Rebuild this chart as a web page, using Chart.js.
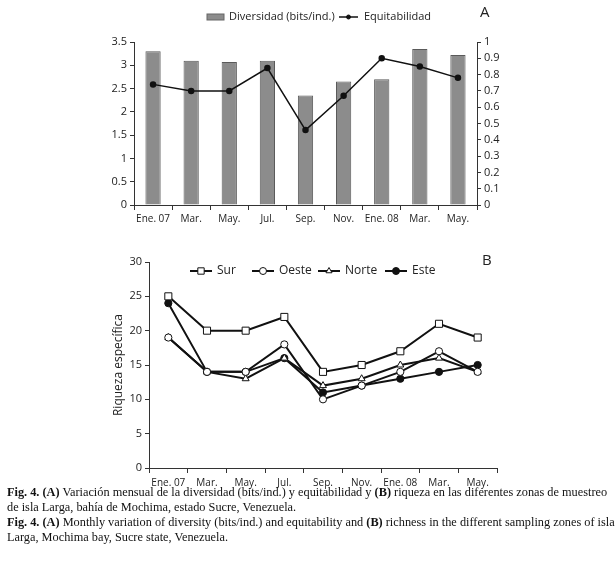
<!DOCTYPE html>
<html>
<head>
<meta charset="utf-8">
<script src="https://cdn.jsdelivr.net/npm/chart.js@4"></script>
<style>
  body { margin: 0; background: #fff; width: 616px; height: 569px; position: relative; overflow: hidden; }
  canvas { position: absolute; left: 0; }
  #capt { position: absolute; left: 7px; top: 485px; width: 606px; font-family: 'Liberation Serif', serif; font-size: 12.3px; line-height: 15px; color: #111; white-space: nowrap; }
</style>
</head>
<body>
<canvas id="chartA" width="616" height="230" style="top:0"></canvas>
<canvas id="chartB" width="616" height="245" style="top:245px"></canvas>
<div id="capt">
<b>Fig. 4. (A)</b> Variación mensual de la diversidad (bits/ind.) y equitabilidad y <b>(B)</b> riqueza en las diferentes zonas de muestreo<br>
de isla Larga, bahía de Mochima, estado Sucre, Venezuela.<br>
<b>Fig. 4. (A)</b> Monthly variation of diversity (bits/ind.) and equitability and <b>(B)</b> richness in the different sampling zones of isla<br>
Larga, Mochima bay, Sucre state, Venezuela.
</div>
<script>
'use strict';

// months sampled
var months = ['Ene. 07', 'Mar.', 'May.', 'Jul.', 'Sep.', 'Nov.', 'Ene. 08', 'Mar.', 'May.'];

// panel A
var diversidad = [3.3, 3.1, 3.07, 3.1, 2.35, 2.65, 2.7, 3.35, 3.22];
var equitabilidad = [0.74, 0.70, 0.70, 0.84, 0.46, 0.67, 0.90, 0.85, 0.78];

// panel B
var sur = [25, 20, 20, 22, 14, 15, 17, 21, 19];
var oeste = [19, 14, 14, 18, 10, 12, 14, 17, 14];
var norte = [19, 14, 13, 16, 12, 13, 15, 16, 14];
var este = [24, 14, 14, 16, 11, 12, 13, 14, 15];

var sans = "'Open Sans', 'Noto Sans', sans-serif";
var axisCol = '#333';

// 3.0 -> "3", 0.50 -> "0.5"
function plainNum(v) {
  return String(Number(v.toFixed(2)));
}

//draws the little legend + the panel letter
function legendPlugin(items, letter) {
  return {
    id: 'legendBox',
    afterDraw: function(chart) {
      var ctx = chart.ctx;
      ctx.save();
      ctx.font = items.font;
      ctx.textBaseline = 'middle';
      items.list.forEach(function(it) {
        var y = items.y;
        if (it.type === 'box') {
          ctx.fillStyle = '#8c8c8c';
          ctx.strokeStyle = '#666';
          ctx.lineWidth = 1;
          ctx.fillRect(it.x, y - 3, 17, 6);
          ctx.strokeRect(it.x, y - 3, 17, 6);
        } else {
          ctx.strokeStyle = '#111';
          ctx.lineWidth = it.lw;
          ctx.beginPath();
          ctx.moveTo(it.x, y);
          ctx.lineTo(it.x + it.len, y);
          ctx.stroke();
          ctx.fillStyle = it.fill;
          ctx.lineWidth = 1;
          Chart.helpers.drawPoint(ctx, {pointStyle: it.ps, radius: it.r, rotation: 0, borderWidth: 1}, it.x + it.len / 2, y);
        }
        ctx.fillStyle = '#222';
        ctx.fillText(it.label, it.tx, y);
      });
      ctx.font = '15px ' + sans;
      ctx.fillStyle = '#222';
      ctx.fillText(letter.t, letter.x, letter.y);
      ctx.restore();
    }
  };
}

// ---- panel A ----
new Chart(document.getElementById('chartA'), {
  type: 'bar',
  data: {
    labels: months,
    datasets: [{
      type: 'line',
      label: 'Equitabilidad',
      data: equitabilidad,
      yAxisID: 'y2',
      borderColor: '#111',
      borderWidth: 1.5,
      pointRadius: 2.5,
      pointBackgroundColor: '#111',
      pointBorderColor: '#111',
      tension: 0
    }, {
      label: 'Diversidad (bits/ind.)',
      data: diversidad,
      yAxisID: 'y',
      backgroundColor: '#8c8c8c',
      borderColor: '#5a5a5a',
      borderWidth: 1,
      barPercentage: 0.4,
      categoryPercentage: 1
    }]
  },
  options: {
    responsive: false,
    animation: false,
    layout: {padding: {top: 42, bottom: 5, left: 0, right: 0}},
    plugins: {legend: {display: false}, tooltip: {enabled: false}},
    scales: {
      x: {
        grid: {display: true, drawOnChartArea: false, offset: true, color: axisCol, tickLength: 5},
        border: {color: axisCol},
        ticks: {color: '#222', font: {family: sans, size: 10}, padding: 3, maxRotation: 0, autoSkip: false},
        afterFit: function(s) { s.height = 20; }
      },
      y: {
        min: 0, max: 3.5,
        ticks: {stepSize: 0.5, color: '#222', font: {family: sans, size: 11}, padding: 3, callback: plainNum},
        grid: {drawOnChartArea: false, color: axisCol, tickLength: 4},
        border: {color: axisCol},
        afterFit: function(s) { s.width = 134; }
      },
      y2: {
        position: 'right',
        min: 0, max: 1,
        ticks: {stepSize: 0.1, color: '#222', font: {family: sans, size: 11}, padding: 3, callback: plainNum},
        grid: {drawOnChartArea: false, color: axisCol, tickLength: 4},
        border: {color: axisCol},
        afterFit: function(s) { s.width = 139; }
      }
    }
  },
  plugins: [legendPlugin({
    font: '11px ' + sans, y: 17,
    list: [
      {type: 'box', x: 207, tx: 229, label: 'Diversidad (bits/ind.)'},
      {type: 'line', x: 339, len: 19, tx: 364, lw: 1.5, ps: 'circle', r: 2, fill: '#111', label: 'Equitabilidad'}
    ]
  }, {t: 'A', x: 480, y: 13})]
});

// ---- panel B ----
function zone(label, data, ps, fill, r) {
  return {
    label: label,
    data: data,
    borderColor: '#111',
    borderWidth: 2,
    pointStyle: ps,
    pointRadius: r,
    pointBackgroundColor: fill,
    pointBorderColor: '#111',
    pointBorderWidth: 1,
    tension: 0
  };
}

new Chart(document.getElementById('chartB'), {
  type: 'line',
  data: {
    labels: months,
    datasets: [
      zone('Sur', sur, 'rect', '#fff', 5),
      zone('Oeste', oeste, 'circle', '#fff', 3.6),
      zone('Norte', norte, 'triangle', '#fff', 4),
      zone('Este', este, 'circle', '#111', 3.6)
    ]
  },
  options: {
    responsive: false,
    animation: false,
    layout: {padding: {top: 17, bottom: 0, left: 107, right: 119}},
    plugins: {legend: {display: false}, tooltip: {enabled: false}},
    scales: {
      x: {
        offset: true,
        grid: {display: true, drawOnChartArea: false, offset: true, color: axisCol, tickLength: 5},
        border: {color: axisCol},
        ticks: {color: '#222', font: {family: sans, size: 10}, padding: 4, maxRotation: 0, autoSkip: false},
        afterFit: function(s) { s.height = 22; }
      },
      y: {
        min: 0, max: 30,
        ticks: {stepSize: 5, color: '#222', font: {family: sans, size: 11}, padding: 3},
        grid: {drawOnChartArea: false, color: axisCol, tickLength: 4},
        border: {color: axisCol},
        title: {display: true, text: 'Riqueza específica', color: '#222', font: {family: sans, size: 12}, padding: 4},
        afterFit: function(s) { s.width = 42; }
      }
    }
  },
  plugins: [legendPlugin({
    font: '12px ' + sans, y: 26,
    list: [
      {type: 'line', x: 190, len: 22, tx: 217, lw: 2, ps: 'rect', r: 4.5, fill: '#fff', label: 'Sur'},
      {type: 'line', x: 252, len: 22, tx: 279, lw: 2, ps: 'circle', r: 3.5, fill: '#fff', label: 'Oeste'},
      {type: 'line', x: 318, len: 22, tx: 345, lw: 2, ps: 'triangle', r: 3.5, fill: '#fff', label: 'Norte'},
      {type: 'line', x: 385, len: 22, tx: 412, lw: 2, ps: 'circle', r: 3.5, fill: '#111', label: 'Este'}
    ]
  }, {t: 'B', x: 482, y: 16})]
});
</script>
</body>
</html>
